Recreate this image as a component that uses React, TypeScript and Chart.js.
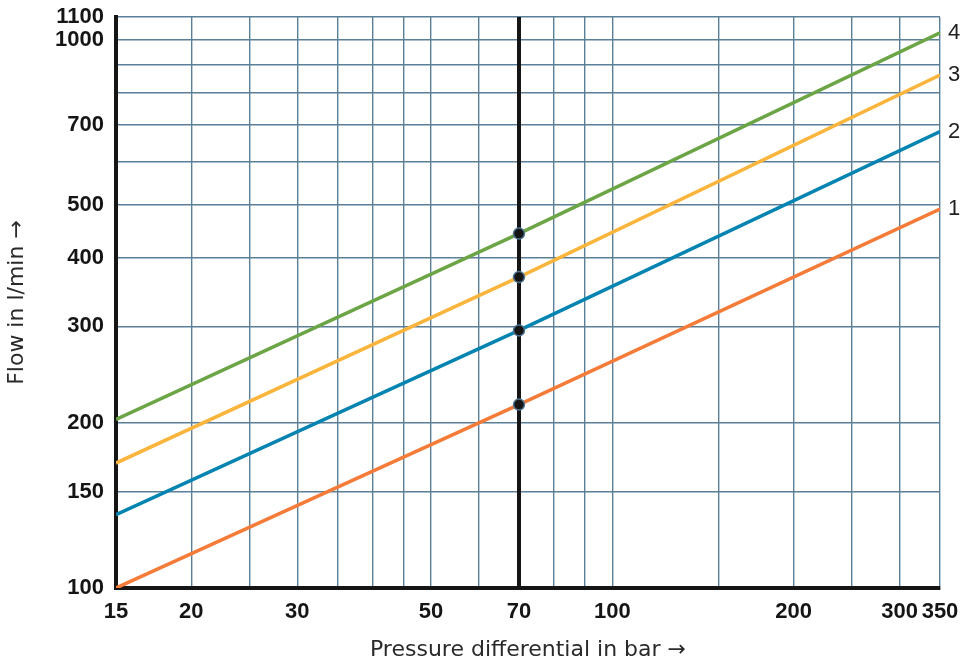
import React, { useEffect, useRef } from 'react';
import { Chart, registerables } from 'chart.js';

Chart.register(...registerables);

// Data
const pressure = [15, 70, 350];
const flowCurve1 = [100, 216, 491];
const flowCurve2 = [136, 295, 680];
const flowCurve3 = [169, 369, 862];
const flowCurve4 = [203, 443, 1029];
const curveLabels = ['1', '2', '3', '4'];
const curveColors = ['#f47b38', '#0584b2', '#fbb53c', '#6ba545'];
const markerPressure = 70;

const xGridTicks = [15, 20, 25, 30, 35, 40, 45, 50, 60, 70, 80, 90, 100, 150, 200, 250, 300, 350];
const xTickLabels = [15, 20, 30, 50, 70, 100, 200, 300, 350];
const yGridTicks = [100, 150, 200, 300, 400, 500, 600, 700, 800, 900, 1000, 1100];
const yTickLabels = [100, 150, 200, 300, 400, 500, 700, 1000, 1100];

const GRID = '#5b7f99';
const INK = '#151515';

const endLabelPlugin = {
  id: 'endLabels',
  afterDatasetsDraw(chart: any) {
    const ctx = chart.ctx;
    chart.data.datasets.forEach((ds: any, i: number) => {
      if (!ds.endLabel) return;
      const meta = chart.getDatasetMeta(i);
      const pt = meta.data[meta.data.length - 1];
      if (!pt) return;
      ctx.save();
      ctx.font = '400 22px "Liberation Sans", sans-serif';
      ctx.fillStyle = '#222';
      ctx.textAlign = 'left';
      ctx.textBaseline = 'middle';
      ctx.fillText(ds.endLabel, pt.x + 8, pt.y);
      ctx.restore();
    });
  },
};

export default function App() {
  const ref = useRef<HTMLCanvasElement | null>(null);

  useEffect(() => {
    if (!ref.current) return;
    const curves = [flowCurve1, flowCurve2, flowCurve3, flowCurve4];
    const mIdx = pressure.indexOf(markerPressure);
    const lineSets = curves.map((c, i) => ({
      type: 'line',
      label: 'Curve ' + curveLabels[i],
      endLabel: curveLabels[i],
      data: pressure.map((p, j) => ({ x: p, y: c[j] })),
      borderColor: curveColors[i],
      backgroundColor: curveColors[i],
      borderWidth: 3.5,
      pointRadius: 0,
      tension: 0,
      order: 2,
    }));
    const markerSet = {
      type: 'scatter',
      label: 'Operating points',
      data: curves.map((c) => ({ x: markerPressure, y: c[mIdx] })),
      backgroundColor: INK,
      borderColor: '#4f7490',
      borderWidth: 1.5,
      pointRadius: 5.5,
      order: 1,
    };

    const chart = new Chart(ref.current, {
      type: 'line',
      data: { datasets: [...lineSets, markerSet] as any },
      plugins: [endLabelPlugin],
      options: {
        animation: false,
        responsive: true,
        maintainAspectRatio: false,
        layout: { padding: { top: 17, right: 21, left: 0, bottom: 0 } },
        plugins: { legend: { display: false }, tooltip: { enabled: false } },
        scales: {
          x: {
            type: 'logarithmic',
            min: 15,
            max: 350,
            afterBuildTicks: (s: any) => {
              s.ticks = xGridTicks.map((v) => ({ value: v }));
            },
            afterFit: (s: any) => {
              s.height = 75;
              s.paddingLeft = 0;
              s.paddingRight = 0;
            },
            ticks: {
              autoSkip: false,
              maxRotation: 0,
              minRotation: 0,
              padding: 11,
              color: INK,
              font: { family: '"Liberation Sans", Arial, sans-serif', size: 22, weight: 'bold' },
              callback: (v: any) => (xTickLabels.includes(Number(v)) ? String(v) : ''),
            },
            grid: {
              z: -1,
              drawTicks: false,
              color: (ctx: any) => (ctx.tick && ctx.tick.value === markerPressure ? INK : GRID),
              lineWidth: (ctx: any) => (ctx.tick && ctx.tick.value === markerPressure ? 4 : 1.4),
            },
            border: { display: true, color: INK, width: 4 },
            title: {
              display: true,
              text: 'Pressure differential in bar \u2192',
              color: '#2a2a2a',
              font: { family: '"DejaVu Sans", sans-serif', size: 22, weight: 'normal' },
              padding: { top: 0, bottom: 0 },
            },
          },
          y: {
            type: 'logarithmic',
            min: 100,
            max: 1100,
            afterBuildTicks: (s: any) => {
              s.ticks = yGridTicks.map((v) => ({ value: v }));
            },
            afterFit: (s: any) => {
              s.width = 116;
              s.paddingTop = 0;
              s.paddingBottom = 0;
            },
            ticks: {
              autoSkip: false,
              padding: 12,
              color: INK,
              font: { family: '"Liberation Sans", Arial, sans-serif', size: 22, weight: 'bold' },
              callback: (v: any) => (yTickLabels.includes(Number(v)) ? String(v) : ''),
            },
            grid: {
              z: -2,
              drawTicks: false,
              color: GRID,
              lineWidth: 1.4,
            },
            border: { display: true, color: INK, width: 4 },
            title: {
              display: true,
              text: 'Flow in l/min \u2192',
              color: '#2a2a2a',
              font: { family: '"DejaVu Sans", sans-serif', size: 22, weight: 'normal' },
              padding: { top: 4, bottom: 0 },
            },
          },
        },
      } as any,
    });
    return () => chart.destroy();
  }, []);

  return (
    <div style={{ position: 'fixed', left: 0, top: 0, width: 961, height: 663, background: '#fff' }}>
      <canvas ref={ref} />
    </div>
  );
}
